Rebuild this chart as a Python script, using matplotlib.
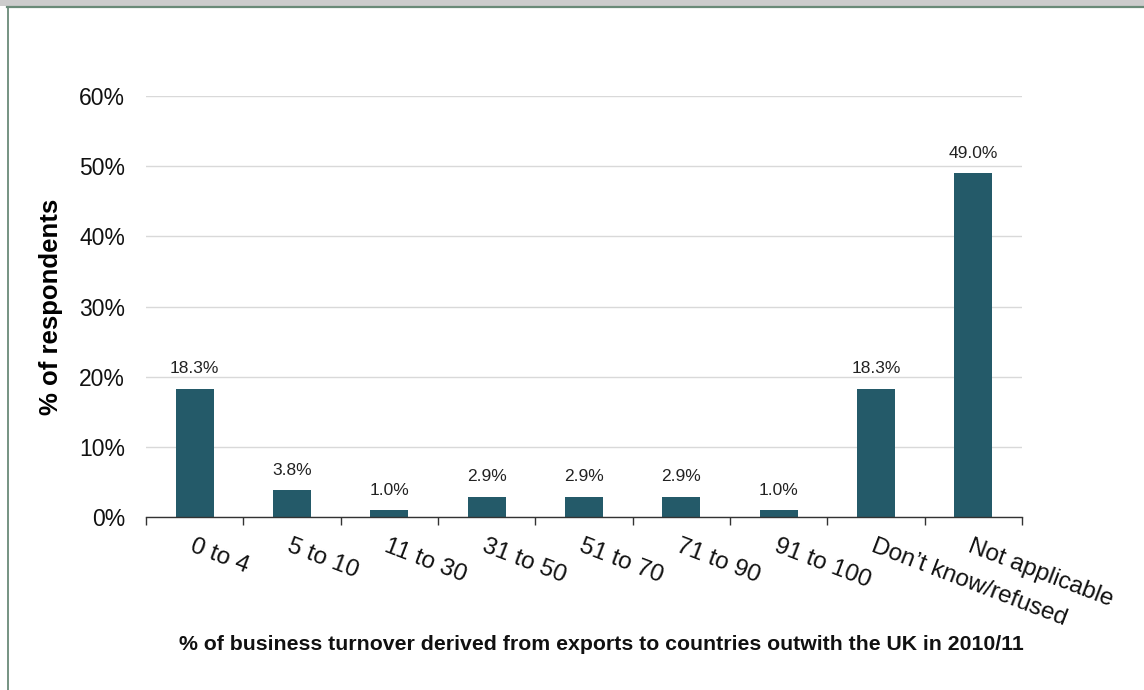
import matplotlib
matplotlib.use("Agg")
import matplotlib.pyplot as plt
from matplotlib.patches import Rectangle
from matplotlib.lines import Line2D
import numpy as np

plt.rcParams['font.family'] = ['Liberation Sans', 'DejaVu Sans']

categories = ["0 to 4", "5 to 10", "11 to 30", "31 to 50", "51 to 70",
              "71 to 90", "91 to 100", "Don\u2019t know/refused", "Not applicable"]
values = [18.3, 3.8, 1.0, 2.9, 2.9, 2.9, 1.0, 18.3, 49.0]
y_ticks = [0, 10, 20, 30, 40, 50, 60]

bar_color = "#245a69"
W, H = 1144, 690
fig = plt.figure(figsize=(W / 100, H / 100), dpi=100)
fig.patch.set_facecolor("white")

# window chrome: grey strip and frame
fig.add_artist(Rectangle((0, 1 - 6 / H), 1, 6 / H, transform=fig.transFigure,
                         facecolor="#cccccc", edgecolor="none"))
fig.add_artist(Line2D([7 / W, 1], [1 - 7 / H, 1 - 7 / H], transform=fig.transFigure,
                      color="#6a8a78", lw=1.6))
fig.add_artist(Line2D([7.5 / W, 7.5 / W], [0, 1 - 7 / H], transform=fig.transFigure,
                      color="#6a8a78", lw=1.3))

ax = fig.add_axes([146 / W, 1 - 517 / H, 876 / W, 421 / H])
x = np.arange(len(categories))
ax.bar(x, values, width=0.39, color=bar_color, zorder=3)

ax.set_xlim(-0.5, len(categories) - 0.5)
ax.set_ylim(0, 60)
ax.set_yticks(y_ticks)
ax.set_yticklabels([f"{t}%" for t in y_ticks], fontsize=16.5, color="#111111")
ax.tick_params(axis="y", length=0, pad=15)
ax.grid(axis="y", color="#d9d9d9", lw=1.0, zorder=0)

for s in ["top", "right", "left"]:
    ax.spines[s].set_visible(False)
ax.spines["bottom"].set_color("#333333")
ax.spines["bottom"].set_linewidth(1.0)
ax.spines["bottom"].set_zorder(4)

# ticks at category boundaries
ax.set_xticks(np.arange(-0.5, len(categories)), minor=False)
ax.set_xticklabels([])
ax.tick_params(axis="x", direction="out", length=6, width=1, color="#333333")

for xi, cat in zip(x, categories):
    ax.annotate(cat, xy=(xi, 0), xycoords=("data", "data"),
                xytext=(0, -13), textcoords="offset points",
                rotation=-21, rotation_mode="anchor", ha="left", va="top",
                fontsize=17.5, color="#111111", annotation_clip=False)

for xi, v in zip(x, values):
    ax.annotate(f"{v:.1f}%", xy=(xi, v), xytext=(0, 11), textcoords="offset points",
                ha="center", va="baseline", fontsize=12.5, color="#222222")

ax.set_ylabel("% of respondents", fontsize=18.5, fontweight="bold")
ax.yaxis.set_label_coords(-(146 - 63) / 876, 0.5)

fig.text(601 / W, 1 - 645 / H,
         "% of business turnover derived from exports to countries outwith the UK in 2010/11",
         ha="center", va="center", fontsize=15.3, fontweight="bold", color="#111111")

fig.savefig("out.png", dpi=100)
